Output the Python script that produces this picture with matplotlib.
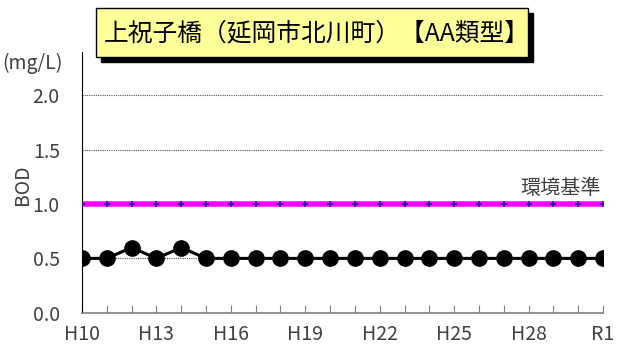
import matplotlib
matplotlib.use("Agg")
from matplotlib import pyplot as plt
from matplotlib.patches import Rectangle

plt.rcParams["font.family"] = ["Noto Sans CJK JP", "DejaVu Sans"]

# Data
years = ["H10", "H11", "H12", "H13", "H14", "H15", "H16", "H17", "H18", "H19",
         "H20", "H21", "H22", "H23", "H24", "H25", "H26", "H27", "H28", "H29",
         "H30", "R1"]
bod = [0.5, 0.5, 0.6, 0.5, 0.6, 0.5, 0.5, 0.5, 0.5, 0.5, 0.5,
       0.5, 0.5, 0.5, 0.5, 0.5, 0.5, 0.5, 0.5, 0.5, 0.5, 0.5]
standard = [1.0] * len(years)
title = "上祝子橋（延岡市北川町）【AA類型】"

x = list(range(len(years)))

fig = plt.figure(figsize=(6.17, 3.51), dpi=100)
ax = fig.add_axes([82 / 617, 0.1091, 521 / 617, 0.7427])

# grid (dotted) at 0.5 steps
for yv in [0.5, 1.0, 1.5, 2.0]:
    ax.axhline(yv, color="#555555", lw=0.8, ls=(0, (1, 1)), zorder=1)

ax.plot(x, standard, color="#ff00ff", lw=4, zorder=2)
ax.plot(x, standard, ls="none", marker="+", color="#1a1a8c", ms=4, mew=1.2, zorder=3)
ax.plot(x, bod, color="black", lw=2.2, marker="o", ms=11, zorder=4)

ax.text(20.9, 1.05, "環境基準", ha="right", va="bottom", fontsize=14.5, color="#404040")

ax.set_xlim(0, 21)
ax.set_ylim(0, 2.4)
ax.set_xticks(x)
ax.set_xticklabels([y if i % 3 == 0 else "" for i, y in enumerate(years)])
ax.set_yticks([0.0, 0.5, 1.0, 1.5, 2.0])
ax.set_yticklabels(["0.0", "0.5", "1.0", "1.5", "2.0"])
ax.tick_params(axis="x", direction="in", length=6, color="#808080",
               labelsize=14, labelcolor="#404040", pad=8)
ax.tick_params(axis="y", length=0, labelsize=14, labelcolor="#404040", pad=16)

ax.spines["top"].set_visible(False)
ax.spines["right"].set_visible(False)
ax.spines["left"].set_color("black")
ax.spines["bottom"].set_color("#808080")
ax.spines["bottom"].set_linewidth(1.2)

fig.text(22 / 617, 1 - 185 / 351, "BOD", rotation=90, ha="center", va="center",
         fontsize=14, color="#404040")
fig.text(2 / 617, 1 - 63 / 351, "(mg/L)", ha="left", va="center",
         fontsize=14, color="#404040")

# title box with shadow
fig.patches.append(Rectangle((101 / 617, 1 - 62 / 351), 432 / 617, 49 / 351,
                             transform=fig.transFigure, facecolor="black",
                             edgecolor="black", zorder=5))
fig.patches.append(Rectangle((96 / 617, 1 - 57 / 351), 432 / 617, 49 / 351,
                             transform=fig.transFigure, facecolor="#ffff99",
                             edgecolor="black", lw=1, zorder=6))
fig.text(104 / 617, 1 - 33 / 351, title, ha="left", va="center",
         fontsize=17.8, color="black", zorder=7)

fig.savefig("out.png", dpi=100)
